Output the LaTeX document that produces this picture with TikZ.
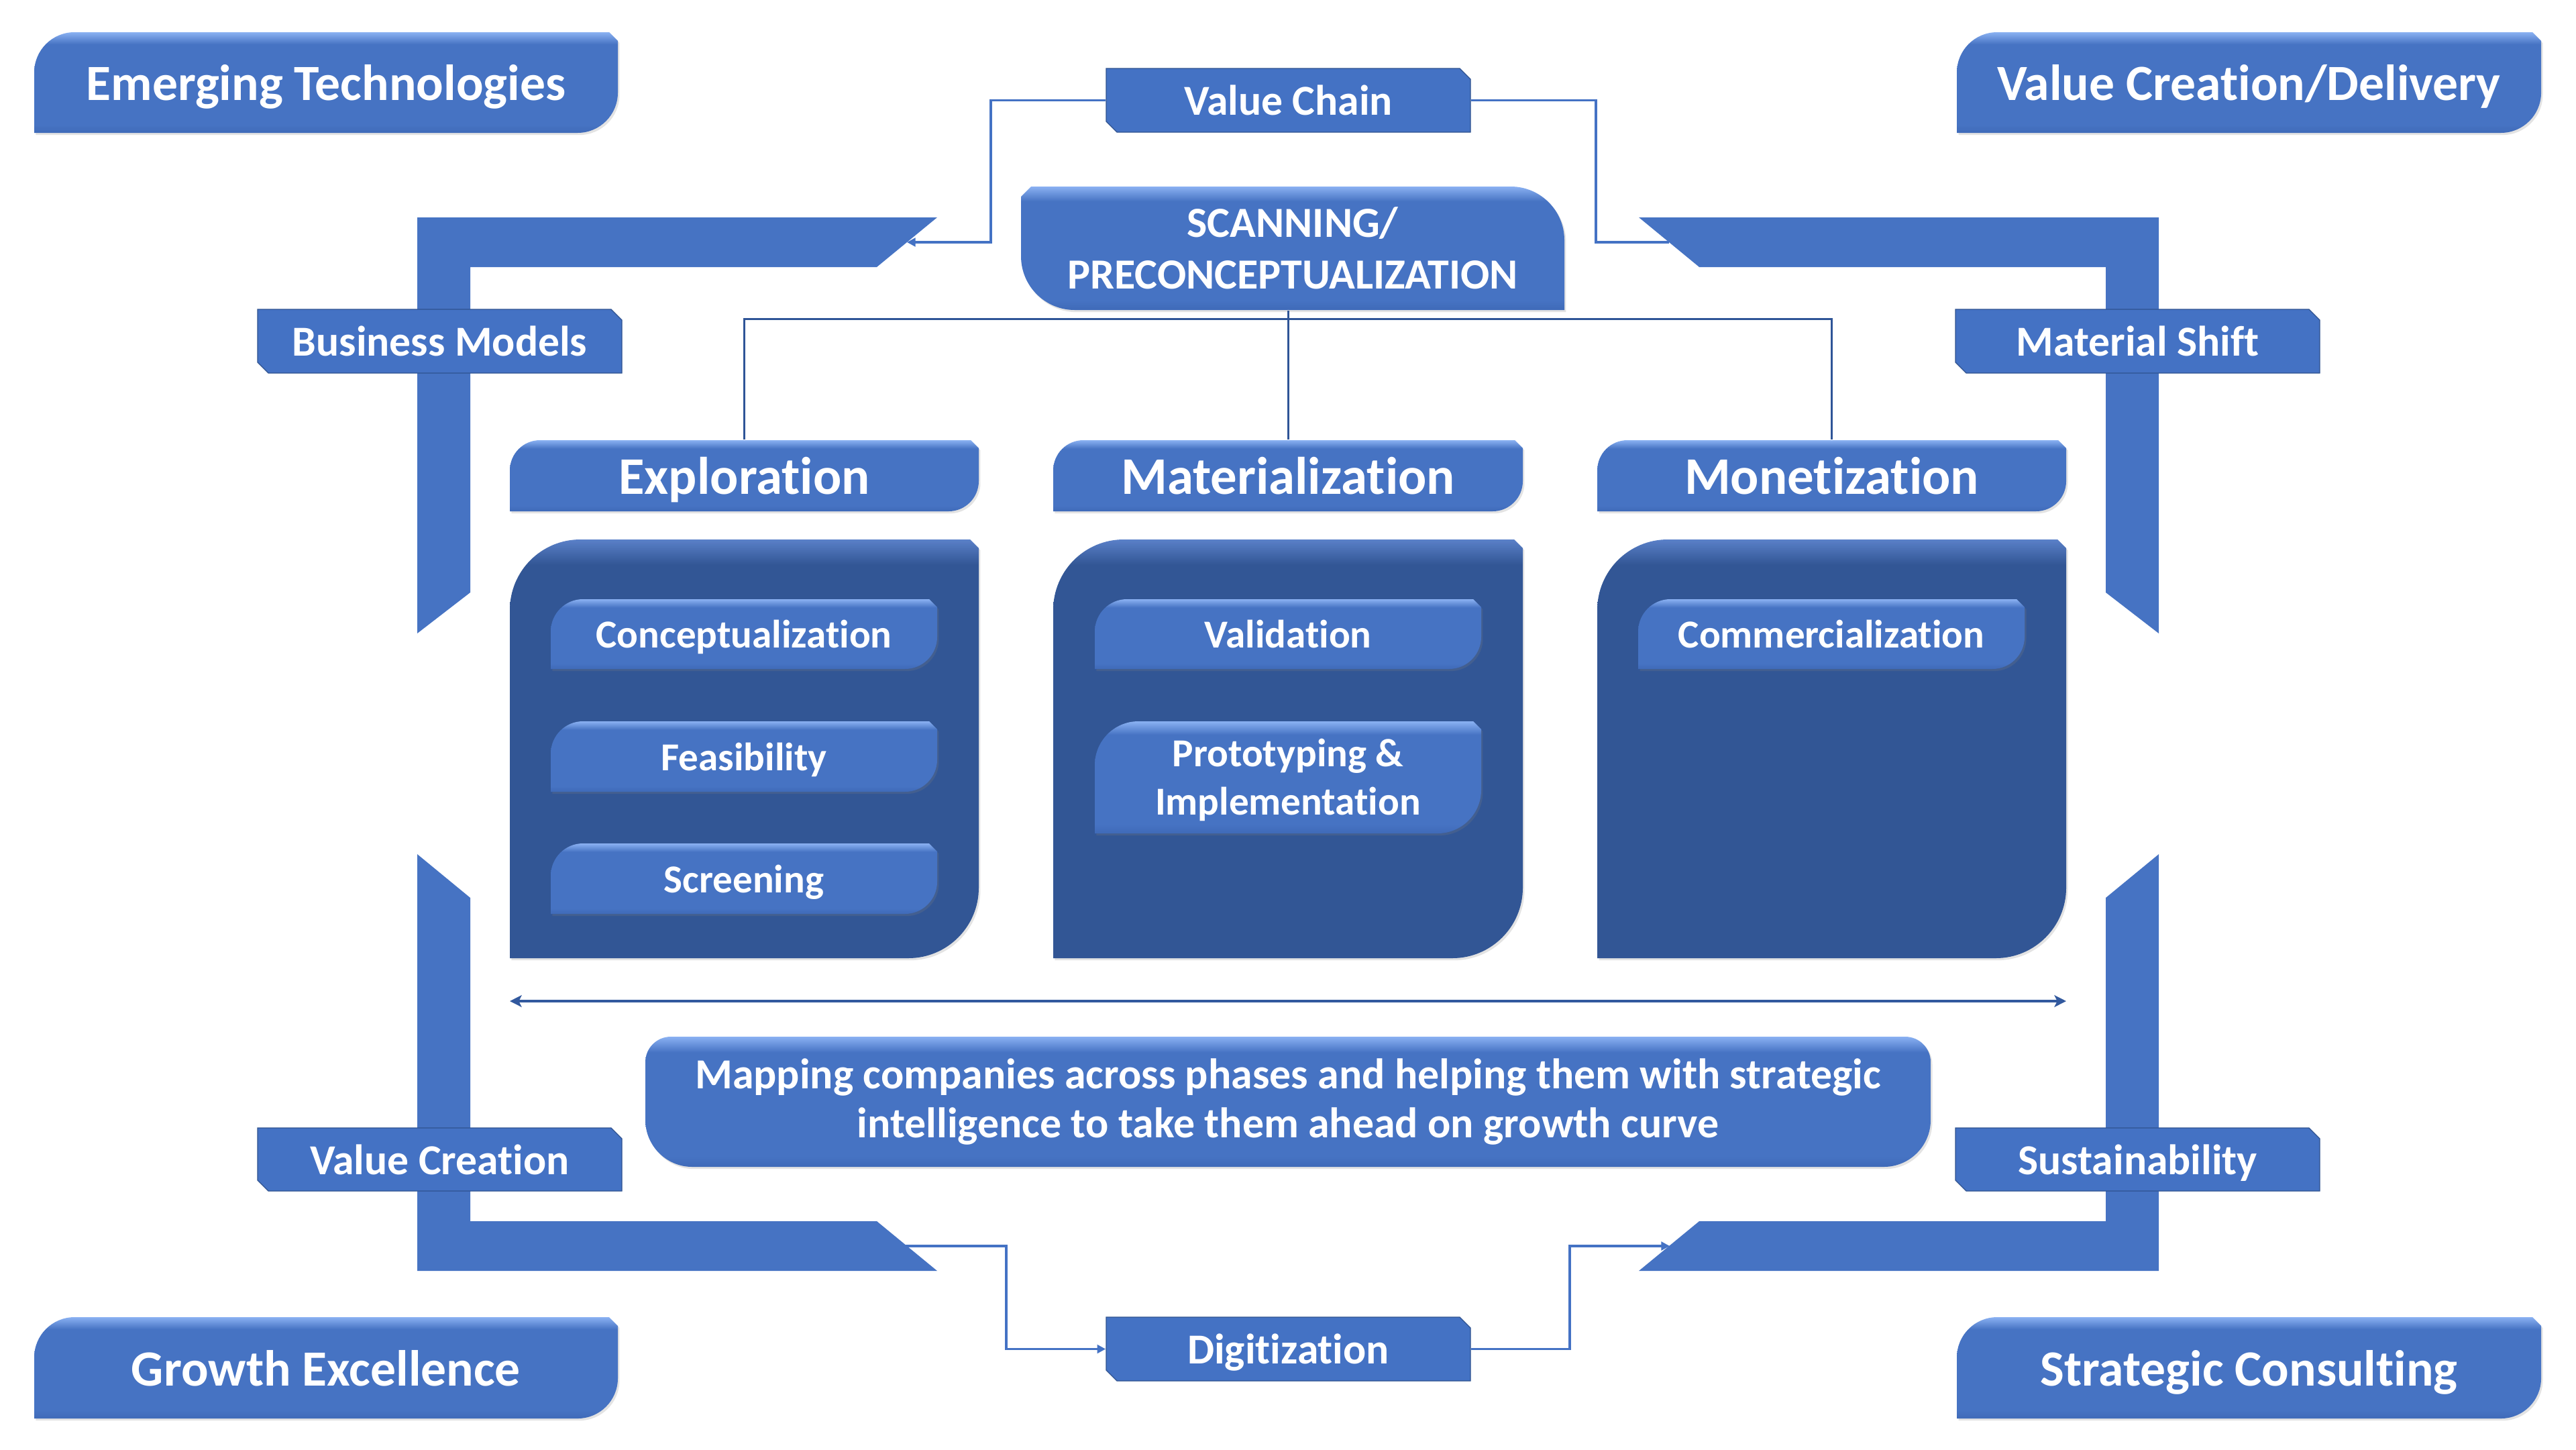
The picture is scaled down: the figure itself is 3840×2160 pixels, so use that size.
\documentclass[tikz,border=0pt]{standalone}
\usepackage{fontspec}
\setmainfont{Carlito}[Ligatures=NoCommon]
\usetikzlibrary{arrows.meta,shadows}
\definecolor{lbase}{HTML}{4673C3}
\definecolor{ltop}{HTML}{8AB1F2}
\definecolor{lbot}{HTML}{3F6AB8}
\definecolor{dbase}{HTML}{325695}
\definecolor{dtop}{HTML}{5A80C8}
\definecolor{flat}{HTML}{4472C4}
\definecolor{edgec}{HTML}{2F528F}
\definecolor{treec}{HTML}{2F5597}
\definecolor{connc}{HTML}{4472C4}
\pgfdeclareverticalshading{lsh}{100bp}{color(0bp)=(lbot); color(25bp)=(lbot); color(29bp)=(lbase); color(69bp)=(lbase); color(75bp)=(ltop); color(100bp)=(ltop)}
\pgfdeclareverticalshading{dsh}{100bp}{color(0bp)=(dbase); color(25bp)=(dbase); color(72bp)=(dbase); color(75bp)=(dtop); color(100bp)=(dtop)}
% round TL & BR, snip TR
\newcommand\shpRS[7]{\path[#1] (#2,#5) -- (#2,#3+#6) .. controls (#2,#3+0.448*#6) and (#2+0.448*#6,#3) .. (#2+#6,#3) -- (#4-#7,#3) -- (#4,#3+#7) -- (#4,#5-#6) .. controls (#4,#5-0.448*#6) and (#4-0.448*#6,#5) .. (#4-#6,#5) -- cycle;}
% snip TL, round TR & BL
\newcommand\shpSR[7]{\path[#1] (#2+#7,#3) -- (#4-#6,#3) .. controls (#4-0.448*#6,#3) and (#4,#3+0.448*#6) .. (#4,#3+#6) -- (#4,#5) -- (#2+#6,#5) .. controls (#2+0.448*#6,#5) and (#2,#5-0.448*#6) .. (#2,#5-#6) -- (#2,#3+#7) -- cycle;}
% all rounded, top radius #6, bottom radius #7
\newcommand\shpRR[7]{\path[#1] (#2+#6,#3) -- (#4-#6,#3) .. controls (#4-0.448*#6,#3) and (#4,#3+0.448*#6) .. (#4,#3+#6) -- (#4,#5-#7) .. controls (#4,#5-0.448*#7) and (#4-0.448*#7,#5) .. (#4-#7,#5) -- (#2+#7,#5) .. controls (#2+0.448*#7,#5) and (#2,#5-0.448*#7) .. (#2,#5-#7) -- (#2,#3+#6) .. controls (#2,#3+0.448*#6) and (#2+0.448*#6,#3) .. (#2+#6,#3) -- cycle;}
% snip TR & BL
\newcommand\shpSN[6]{\path[#1] (#2,#3) -- (#4-#6,#3) -- (#4,#3+#6) -- (#4,#5) -- (#2+#6,#5) -- (#2,#5-#6) -- cycle;}
\newcommand\fsbig{\fontsize{21.5}{26}\selectfont}
\newcommand\fshead{\fontsize{22.4}{27}\selectfont}
\newcommand\fslab{\fontsize{18.1}{21.9}\selectfont}
\newcommand\fsscan{\fontsize{18.2}{21.9}\selectfont}
\newcommand\fsmap{\fontsize{18.15}{21}\selectfont}
\newcommand\fsitem{\fontsize{16.8}{20.5}\selectfont}
\tikzset{
  lightbox/.style={shading=lsh, drop shadow={opacity=0.22, shadow xshift=0.7pt, shadow yshift=-0.9pt}},
  darkbox/.style={shading=dsh, drop shadow={opacity=0.22, shadow xshift=0.7pt, shadow yshift=-0.9pt}},
  flatbox/.style={fill=flat, draw=edgec, line width=0.35pt},
  bracket/.style={fill=lbase},
  txt/.style={text=white, font=\bfseries, inner sep=0pt, align=center},
  bigtxt/.style={txt, font=\bfseries\fsbig, text height=19.4pt, text depth=4.3pt},
  headtxt/.style={txt, font=\bfseries\fshead, text height=20.2pt, text depth=4.5pt},
  labtxt/.style={txt, font=\bfseries\fslab, text height=16.3pt, text depth=3.6pt},
  itemtxt/.style={txt, font=\bfseries\fsitem, text height=15.1pt, text depth=3.4pt},
  conn/.style={draw=connc, line width=0.95pt},
  connarrow/.style={conn, -{Triangle[length=3.6pt,width=3.6pt]}},
  tree/.style={draw=treec, line width=0.85pt},
  longarrow/.style={draw=treec!85!connc, line width=1pt, {Stealth[length=5pt,width=5pt,inset=1.2pt]}-{Stealth[length=5pt,width=5pt,inset=1.2pt]}}
}
\begin{document}
\begin{tikzpicture}[x=0.01cm,y=-0.01cm]
\useasboundingbox (0,0) rectangle (3840,2160);
\fill[white] (0,0) rectangle (3840,2160);

% ---- corner brackets
\path[bracket] (622,324) -- (1397,324) -- (1307,398) -- (701,398) -- (701,883) -- (622,944) -- cycle;
\path[bracket] (3218,324) -- (2443,324) -- (2533,398) -- (3139,398) -- (3139,883) -- (3218,944) -- cycle;
\path[bracket] (622,1273) -- (701,1338) -- (701,1820) -- (1307,1820) -- (1397,1894) -- (622,1894) -- cycle;
\path[bracket] (3218,1273) -- (3139,1338) -- (3139,1820) -- (2533,1820) -- (2443,1894) -- (3218,1894) -- cycle;
\coordinate (tlA) at (1352,361);
\coordinate (trA) at (2488,361);
\coordinate (blA) at (1350,1857);
\coordinate (brA) at (2489,1857);

% ---- corner boxes
\shpRS{lightbox}{51}{48}{921}{198}{60}{13}
\node[bigtxt, minimum width=8.7cm, minimum height=1.5cm] (emerg) at (486,123) {Emerging Technologies};
\shpRS{lightbox}{2917}{48}{3788}{198}{60}{13}
\node[bigtxt, minimum width=8.71cm, minimum height=1.5cm] (vcd) at (3352.5,123) {Value Creation/Delivery};
\shpRS{lightbox}{51}{1963}{921}{2114}{60}{13}
\node[bigtxt, minimum width=8.7cm, minimum height=1.51cm] (growth) at (486,2038.5) {Growth Excellence};
\shpRS{lightbox}{2917}{1963}{3788}{2114}{60}{13}
\node[bigtxt, minimum width=8.71cm, minimum height=1.51cm] (strat) at (3352.5,2038.5) {Strategic Consulting};

% ---- labels on brackets
\shpSN{flatbox}{384}{461}{927}{556}{16}
\node[labtxt, minimum width=5.43cm, minimum height=0.95cm] (bm) at (655.5,508.5) {Business Models};
\shpSN{flatbox}{2915}{461}{3458}{556}{16}
\node[labtxt, minimum width=5.43cm, minimum height=0.95cm] (ms) at (3186.5,508.5) {Material Shift};
\shpSN{flatbox}{384}{1681}{927}{1775}{16}
\node[labtxt, minimum width=5.43cm, minimum height=0.94cm] (vcr) at (655.5,1728) {Value Creation};
\shpSN{flatbox}{2915}{1681}{3458}{1775}{16}
\node[labtxt, minimum width=5.43cm, minimum height=0.94cm] (sus) at (3186.5,1728) {Sustainability};

% ---- value chain / digitization
\shpSN{flatbox}{1649}{102}{2192}{197}{16}
\node[labtxt, minimum width=5.43cm, minimum height=0.95cm] (vc) at (1920.5,149.5) {Value Chain};
\shpSN{flatbox}{1649}{1963}{2192}{2058}{16}
\node[labtxt, minimum width=5.43cm, minimum height=0.95cm] (dig) at (1920.5,2010.5) {Digitization};

% ---- scanning
\shpSR{lightbox}{1522}{278}{2332}{462}{80}{15}
\node[txt, font=\bfseries\fsscan, minimum width=8.1cm, minimum height=1.84cm] (scan) at (1927,370) {SCANNING/\\PRECONCEPTUALIZATION};

% ---- phase headers
\shpRS{lightbox}{760}{656}{1459}{762}{45}{12}
\node[headtxt, minimum width=6.99cm, minimum height=1.06cm] (expl) at (1109.5,709) {Exploration};
\shpRS{lightbox}{1570}{656}{2270}{762}{45}{12}
\node[headtxt, minimum width=7cm, minimum height=1.06cm] (mat) at (1920,709) {Materialization};
\shpRS{lightbox}{2381}{656}{3080}{762}{45}{12}
\node[headtxt, minimum width=6.99cm, minimum height=1.06cm] (mon) at (2730.5,709) {Monetization};

% ---- phase bodies
\shpRS{darkbox}{760}{804}{1459}{1428}{105}{13}
\node[minimum width=6.99cm, minimum height=6.24cm, inner sep=0pt] (explb) at (1109.5,1116) {};
\shpRS{darkbox}{1570}{804}{2270}{1428}{105}{13}
\node[minimum width=7cm, minimum height=6.24cm, inner sep=0pt] (matb) at (1920,1116) {};
\shpRS{darkbox}{2381}{804}{3080}{1428}{105}{13}
\node[minimum width=6.99cm, minimum height=6.24cm, inner sep=0pt] (monb) at (2730.5,1116) {};

% ---- items
\shpRS{lightbox}{821}{893}{1397}{997}{48}{12}
\node[itemtxt] (concept) at (1109,945) {Conceptualization};
\shpRS{lightbox}{821}{1075}{1397}{1180}{48}{12}
\node[itemtxt] (feas) at (1109,1127.5) {Feasibility};
\shpRS{lightbox}{821}{1257}{1397}{1362}{48}{12}
\node[itemtxt] (screen) at (1109,1309.5) {Screening};
\shpRS{lightbox}{1632}{893}{2208}{997}{48}{12}
\node[itemtxt] (valid) at (1920,945) {Validation};
\shpRS{lightbox}{1632}{1075}{2208}{1242}{65}{12}
\node[txt, font=\bfseries\fsitem] (proto) at (1920,1162.5) {Prototyping \&\\Implementation};
\shpRS{lightbox}{2442}{893}{3018}{997}{48}{12}
\node[itemtxt] (comm) at (2730,945) {Commercialization};

% ---- long double arrow
\coordinate (arL) at (760,1492);
\coordinate (arR) at (3080,1492);
\draw[longarrow] (arL) -- (arR);

% ---- mapping box
\shpRR{lightbox}{962}{1545}{2878}{1739}{38}{70}
\node[txt, font=\bfseries\fsmap] (mapping) at (1920,1642) {Mapping companies across phases and helping them with strategic\\intelligence to take them ahead on growth curve};

% ---- tree connectors
\coordinate (hub) at (1920,475);
\draw[tree] (expl.north) |- (hub) -| (mon.north);
\draw[tree] (mat.north) -- (mat.north |- scan.south);

% ---- value chain connectors
\coordinate (vcL) at (1477,361);
\coordinate (vcR) at (2379,361);
\draw[connarrow] (vc.west) -| (vcL) -- (tlA);
\draw[conn] (trA) -- (vcR) |- (vc.east);

% ---- digitization connectors
\coordinate (dgL) at (1500,1857);
\coordinate (dgR) at (2340,1857);
\draw[connarrow] (blA) -- (dgL) |- (dig.west);
\draw[connarrow] (dig.east) -| (dgR) -- (brA);
\end{tikzpicture}
\end{document}
